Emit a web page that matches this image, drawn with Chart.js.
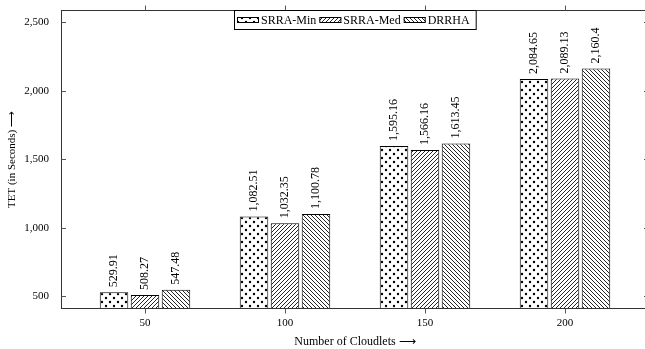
<!DOCTYPE html>
<html><head><meta charset="utf-8">
<script src="https://cdn.jsdelivr.net/npm/chart.js@4"></script>
<style>
html,body{margin:0;padding:0;background:#fff;overflow:hidden;width:645px;height:349px}
#wrap{width:650px;height:349px;position:relative}
canvas{display:block}
</style>
</head><body><div id="wrap"><canvas id="c" width="650" height="349"></canvas></div>
<script>
const categories = [50, 100, 150, 200];
const seriesNames = ['SRRA-Min', 'SRRA-Med', 'DRRHA'];
const srraMin = [529.91, 1082.51, 1595.16, 2084.65];
const srraMed = [508.27, 1032.35, 1566.16, 2089.13];
const drrha = [547.48, 1100.78, 1613.45, 2160.4];
const yTicks = [500, 1000, 1500, 2000, 2500];
const xTitle = 'Number of Cloudlets \u27F6';
const yTitle = 'TET (in Seconds) \u27F6';

const SERIF = "'Liberation Serif','Times New Roman',serif";

function makePattern(kind) {
  const c = document.createElement('canvas');
  const ctx = c.getContext('2d');
  if (kind === 'dots') {
    c.width = 8; c.height = 8;
    ctx.fillStyle = '#fff'; ctx.fillRect(0, 0, 8, 8);
    ctx.fillStyle = '#000';
    [[2, 2], [6, 6]].forEach(([x, y]) => {
      ctx.beginPath(); ctx.arc(x, y, 1.2, 0, Math.PI * 2); ctx.fill();
    });
  } else {
    const s = 4;
    c.width = s; c.height = s;
    ctx.fillStyle = '#fff'; ctx.fillRect(0, 0, s, s);
    ctx.strokeStyle = '#000'; ctx.lineWidth = 0.85;
    for (const x0 of [-s, 0, s]) {
      ctx.beginPath();
      if (kind === 'ne') { ctx.moveTo(x0, s); ctx.lineTo(x0 + s, 0); }
      else { ctx.moveTo(x0, 0); ctx.lineTo(x0 + s, s); }
      ctx.stroke();
    }
  }
  return document.getElementById('c').getContext('2d').createPattern(c, 'repeat');
}

const patterns = [makePattern('dots'), makePattern('ne'), makePattern('nw')];
const seriesValues = [srraMin, srraMed, drrha];

function fmt(v) { return v.toLocaleString('en-US', { maximumFractionDigits: 2 }); }

const decor = {
  id: 'decor',
  afterDatasetsDraw(chart) {
    const ctx = chart.ctx;
    const a = chart.chartArea;
    const xs = chart.scales.x, ys = chart.scales.y;
    ctx.save();
    // data labels
    ctx.fillStyle = '#000';
    ctx.font = '12px ' + SERIF;
    ctx.textAlign = 'left';
    ctx.textBaseline = 'middle';
    chart.data.datasets.forEach((ds, i) => {
      const meta = chart.getDatasetMeta(i);
      meta.data.forEach((el, j) => {
        ctx.save();
        ctx.translate(el.x, el.y - 5);
        ctx.rotate(-Math.PI / 2);
        ctx.fillText(fmt(ds.data[j].y), 0, 0);
        ctx.restore();
      });
    });
    // frame
    ctx.strokeStyle = '#333';
    ctx.lineWidth = 1;
    const L = a.left + 0.5, R = a.right - 0.5, T = a.top + 0.5, B = a.bottom - 0.5;
    ctx.strokeRect(L, T, R - L, B - T);
    // ticks
    ctx.strokeStyle = '#555';
    ctx.beginPath();
    yTicks.forEach(v => {
      const y = Math.round(ys.getPixelForValue(v)) + 0.5;
      ctx.moveTo(L, y); ctx.lineTo(L + 4.5, y);
      ctx.moveTo(R, y); ctx.lineTo(R - 4.5, y);
    });
    categories.forEach(v => {
      const x = Math.round(xs.getPixelForValue(v)) + 0.5;
      ctx.moveTo(x, B); ctx.lineTo(x, B + 5);
      ctx.moveTo(x, T); ctx.lineTo(x, T - 5);
    });
    ctx.stroke();
    // legend
    ctx.font = '12px ' + SERIF;
    const sw = 22, sh = 6;
    const tws = seriesNames.map(n => ctx.measureText(n).width);
    let w = 3 + 7 + 3 * (seriesNames.length - 1);
    tws.forEach(t => { w += sw + 2 + t; });
    const lx = Math.round((a.left + a.right) / 2 - w / 2);
    const ly = a.top, lh = 20;
    ctx.fillStyle = '#fff';
    ctx.fillRect(lx, ly, w, lh);
    ctx.strokeStyle = '#000';
    ctx.strokeRect(lx + 0.5, ly + 0.5, w - 1, lh - 1);
    let x = lx + 3;
    const cy = ly + lh / 2;
    seriesNames.forEach((n, i) => {
      ctx.fillStyle = patterns[i];
      ctx.fillRect(x, cy - sh / 2, sw, sh);
      ctx.strokeStyle = '#000';
      ctx.strokeRect(x + 0.5, cy - sh / 2 + 0.5, sw - 1, sh - 1);
      x += sw + 2;
      ctx.fillStyle = '#000';
      ctx.textAlign = 'left';
      ctx.textBaseline = 'middle';
      ctx.fillText(n, x, cy + 0.5);
      x += tws[i] + 3;
    });
    ctx.restore();
  }
};

new Chart(document.getElementById('c'), {
  type: 'bar',
  data: {
    datasets: seriesNames.map((n, i) => ({
      label: n,
      data: categories.map((c, j) => ({ x: c, y: seriesValues[i][j] })),
      backgroundColor: patterns[i],
      borderColor: '#000',
      borderWidth: 1,
      borderSkipped: false,
      categoryPercentage: 0.664,
      barPercentage: 0.92
    }))
  },
  options: {
    responsive: false,
    animation: false,
    events: [],
    layout: { padding: { top: 10, right: 1, left: 0, bottom: 0 } },
    plugins: { legend: { display: false }, tooltip: { enabled: false } },
    scales: {
      x: {
        type: 'linear',
        offset: false,
        min: 20, max: 230,
        grid: { display: false, drawTicks: false, offset: false },
        border: { display: false },
        afterBuildTicks: s => { s.ticks = categories.map(v => ({ value: v })); },
        afterFit: s => { s.height = 40; s.paddingLeft = 0; s.paddingRight = 0; },
        ticks: { color: '#000', font: { family: SERIF, size: 11 }, padding: 8,
                 callback: v => String(v) },
        title: { display: true, text: xTitle, color: '#000',
                 font: { family: SERIF, size: 12 }, padding: { top: 0, bottom: 0 } }
      },
      y: {
        type: 'linear',
        min: 407, max: 2588,
        grid: { display: false, drawTicks: false },
        border: { display: false },
        afterBuildTicks: s => { s.ticks = yTicks.map(v => ({ value: v })); },
        afterFit: s => { s.width = 61; s.paddingTop = 0; s.paddingBottom = 0; },
        ticks: { color: '#000', font: { family: SERIF, size: 11 }, padding: 12,
                 callback: v => fmt(v) },
        title: { display: true, text: yTitle, color: '#000',
                 font: { family: SERIF, size: 11 }, padding: { top: 6, bottom: 0 } }
      }
    }
  },
  plugins: [decor]
});
</script>
</body></html>
